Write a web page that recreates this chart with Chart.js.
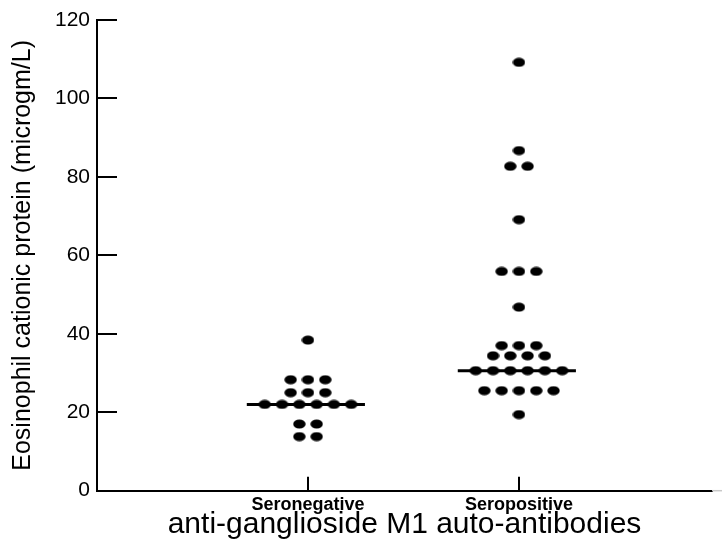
<!DOCTYPE html>
<html>
<head>
<meta charset="utf-8">
<script src="https://cdn.jsdelivr.net/npm/chart.js@4.4.1/dist/chart.umd.min.js"></script>
<style>
  body { margin: 0; background: #fff; }
  #wrap { width: 722px; height: 542px; }
</style>
</head>
<body>
<div id="wrap"><canvas id="chart"></canvas></div>
<script>
// Data
const categories = ["Seronegative", "Seropositive"];
const seronegative = [38.4, 28.3, 28.3, 28.3, 25, 25, 25, 22, 22, 22, 22, 22, 22, 17, 17, 13.8, 13.8];
const seropositive = [109.2, 86.7, 82.7, 82.7, 69.1, 55.9, 55.9, 55.9, 46.8, 37, 37, 37,
  34.4, 34.4, 34.4, 34.4, 30.6, 30.6, 30.6, 30.6, 30.6, 30.6, 25.5, 25.5, 25.5, 25.5, 25.5, 19.4];
const medianLine = [22, 30.6];
const yTicks = [0, 20, 40, 60, 80, 100, 120];

// layout constants
const DOT_STEP = 0.082;          // horizontal spacing of dots in a row (x units)
const LINE_LEFT = 0.29, LINE_RIGHT = 0.27;

// put equal values side by side, centred on the category position
function swarm(values, center) {
  const counts = {};
  values.forEach(v => { counts[v] = (counts[v] || 0) + 1; });
  const seen = {};
  return values.map(v => {
    const i = seen[v] || 0;
    seen[v] = i + 1;
    return { x: center + (i - (counts[v] - 1) / 2) * DOT_STEP, y: v };
  });
}

// slightly flattened dot like the original
function ellipseDot() {
  const c = document.createElement("canvas");
  c.width = 13; c.height = 10;
  const g = c.getContext("2d");
  g.fillStyle = "#000";
  g.beginPath();
  g.ellipse(6.5, 5, 6.2, 4.6, 0, 0, Math.PI * 2);
  g.fill();
  return c;
}
const dot = ellipseDot();

// tick marks drawn inward, plus the faint stub at the right end of the x axis
const innerTicks = {
  id: "innerTicks",
  afterDraw(chart) {
    const { ctx, chartArea: a, scales: { x, y } } = chart;
    ctx.save();
    ctx.strokeStyle = "#000";
    ctx.lineWidth = 2;
    ctx.beginPath();
    y.ticks.forEach(t => {
      const py = Math.round(y.getPixelForValue(t.value));
      ctx.moveTo(a.left, py);
      ctx.lineTo(a.left + 20, py);
    });
    x.ticks.forEach(t => {
      const px = Math.round(x.getPixelForValue(t.value));
      ctx.moveTo(px, a.bottom);
      ctx.lineTo(px, a.bottom - 14);
    });
    ctx.stroke();
    ctx.strokeStyle = "#c8c8c8";
    ctx.lineWidth = 1.5;
    ctx.beginPath();
    ctx.moveTo(a.right, a.bottom);
    ctx.lineTo(chart.width, a.bottom);
    ctx.stroke();
    ctx.restore();
  }
};

const groups = [seronegative, seropositive];
const datasets = [];
groups.forEach((vals, gi) => {
  const c = gi + 1;
  datasets.push({
    type: "line",
    label: categories[gi] + " median",
    data: [{ x: c - LINE_LEFT, y: medianLine[gi] }, { x: c + LINE_RIGHT, y: medianLine[gi] }],
    borderColor: "#000",
    borderWidth: 3,
    pointRadius: 0,
    fill: false
  });
  datasets.push({
    type: "scatter",
    label: categories[gi],
    data: swarm(vals, c),
    pointStyle: dot,
    backgroundColor: "#000",
    borderColor: "#000"
  });
});

new Chart(document.getElementById("chart"), {
  type: "scatter",
  data: { datasets },
  options: {
    responsive: true,
    maintainAspectRatio: false,
    animation: false,
    layout: { padding: { top: 20, right: 10, bottom: 0, left: 0 } },
    plugins: { legend: { display: false }, tooltip: { enabled: false } },
    scales: {
      x: {
        type: "linear",
        min: 0,
        max: 2.915,
        grid: { display: false, drawTicks: false },
        border: { display: true, color: "#000", width: 2 },
        afterBuildTicks: (s) => { s.ticks = categories.map((_, i) => ({ value: i + 1 })); },
        afterFit: (s) => { s.height = 51.3; },
        ticks: {
          callback: (v, i) => categories[i],
          color: "#000",
          padding: 4,
          maxRotation: 0,
          font: { family: "'Liberation Sans', Arial, sans-serif", size: 18, weight: "bold" }
        },
        title: {
          display: true,
          text: "anti-ganglioside M1 auto-antibodies",
          color: "#000",
          padding: { top: 0, bottom: 2.4 },
          font: { family: "'Liberation Sans', Arial, sans-serif", size: 30, lineHeight: 1 }
        }
      },
      y: {
        min: 0,
        max: 120,
        grid: { display: false, drawTicks: false },
        border: { display: true, color: "#000", width: 2 },
        afterBuildTicks: (s) => { s.ticks = yTicks.map(v => ({ value: v })); },
        afterFit: (s) => { s.width = 97; },
        ticks: {
          color: "#000",
          padding: 7,
          font: { family: "'Liberation Sans', Arial, sans-serif", size: 21 }
        },
        title: {
          display: true,
          text: "Eosinophil cationic protein (microgm/L)",
          color: "#000",
          padding: { top: 11, bottom: 0 },
          font: { family: "'Liberation Sans', Arial, sans-serif", size: 25, lineHeight: 1 }
        }
      }
    }
  },
  plugins: [innerTicks]
});
</script>
</body>
</html>
